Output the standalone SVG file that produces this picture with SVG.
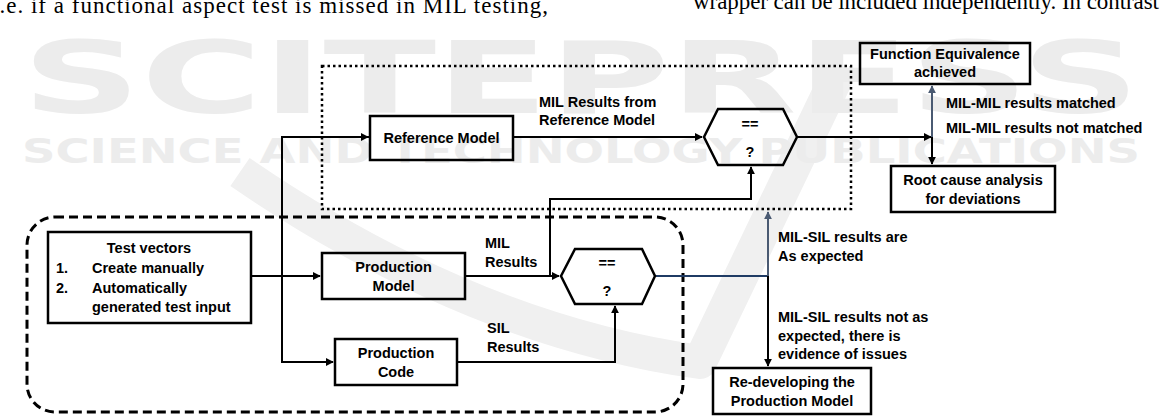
<svg xmlns="http://www.w3.org/2000/svg" width="1161" height="416" viewBox="0 0 1161 416">
<style>
.wm{fill:#ececec;font-family:"DejaVu Sans","Liberation Sans",sans-serif;font-weight:bold}
.pg{fill:#000;font-family:"Liberation Serif",serif;font-size:23px}
.box{fill:none;stroke:#000;stroke-width:2.5}
.t{font-family:"Liberation Sans",Arial,sans-serif;font-weight:bold;font-size:14.5px;fill:#000}
.c{text-anchor:middle}
.ln{fill:none;stroke:#000;stroke-width:2}
.lb{fill:none;stroke:#4a5a72;stroke-width:2}
.nv{fill:none;stroke:#1f3b64;stroke-width:2}
</style>
<defs>
<marker id="ah" viewBox="0 0 10 10" refX="9" refY="5" markerWidth="4" markerHeight="4" orient="auto" markerUnits="strokeWidth"><path d="M0,0L10,5L0,10z" fill="#000"/></marker>
<marker id="ahb" viewBox="0 0 10 10" refX="9" refY="5" markerWidth="4" markerHeight="4" orient="auto" markerUnits="strokeWidth"><path d="M0,0L10,5L0,10z" fill="#4a5a72"/></marker>
</defs>
<rect width="1161" height="416" fill="#fff"/>
<g id="page-text">
<text class="pg" x="-8" y="13" textLength="556" lengthAdjust="spacing">i.e. if a functional aspect test is missed in MIL testing,</text>
<text class="pg" x="693" y="9" textLength="466" lengthAdjust="spacing">wrapper can be included independently. In contrast</text>
</g>
<g id="watermark">
<path d="M240,172 Q470,330 700,362 L842,66" fill="none" stroke="#f0f0f0" stroke-width="34" stroke-linejoin="round"/>
<text class="wm" x="22" y="113" font-size="100" textLength="1118" lengthAdjust="spacingAndGlyphs">SCITEPRESS</text>
<text class="wm" x="22" y="163" font-size="34" font-weight="normal" textLength="1118" lengthAdjust="spacingAndGlyphs">SCIENCE AND TECHNOLOGY PUBLICATIONS</text>
</g>
<g id="regions">
<rect x="322" y="66" width="529" height="143" fill="none" stroke="#000" stroke-width="2.5" stroke-dasharray="2.5 3"/>
<rect x="27" y="217" width="656" height="195" rx="28" fill="none" stroke="#000" stroke-width="3" stroke-dasharray="9 5"/>
</g>
<g id="connectors">
<path class="ln" d="M251,276H320" marker-end="url(#ah)"/>
<path class="ln" d="M369,137H282V362H333" marker-end="url(#ah)"/>
<path class="ln" d="M282,137H368" marker-end="url(#ah)"/>
<path class="ln" d="M513,137H702" marker-end="url(#ah)"/>
<path class="ln" d="M465,276H559" marker-end="url(#ah)"/>
<path class="ln" d="M550,276V199H751V167" marker-end="url(#ah)"/>
<path class="ln" d="M457,362H615V306" marker-end="url(#ah)"/>
<path class="ln" d="M797,137H931" marker-end="url(#ah)"/>
<path class="lb" d="M932,137V86" marker-end="url(#ahb)"/>
<path class="ln" d="M932,137V164" marker-end="url(#ah)"/>
<path class="nv" d="M655,276H768"/>
<path class="lb" d="M768,276V212" marker-end="url(#ahb)"/>
<path class="ln" d="M768,276V366" marker-end="url(#ah)"/>
</g>
<g id="labels">
<text class="t" x="539" y="107">MIL Results from</text>
<text class="t" x="539" y="125">Reference Model</text>
<text class="t" x="485" y="248">MIL</text>
<text class="t" x="485" y="267">Results</text>
<text class="t" x="487" y="333">SIL</text>
<text class="t" x="487" y="352">Results</text>
<text class="t" x="946" y="108">MIL-MIL results matched</text>
<text class="t" x="946" y="133">MIL-MIL results not matched</text>
<text class="t" x="778" y="242">MIL-SIL results are</text>
<text class="t" x="778" y="261">As expected</text>
<text class="t" x="778" y="322">MIL-SIL results not as</text>
<text class="t" x="778" y="341">expected, there is</text>
<text class="t" x="778" y="359">evidence of issues</text>
</g>
<g id="test-vectors">
<rect class="box" x="48" y="232" width="203" height="91"/>
<text class="t c" x="149" y="253">Test vectors</text>
<text class="t" x="56" y="273">1.</text>
<text class="t" x="92" y="273">Create manually</text>
<text class="t" x="56" y="293">2.</text>
<text class="t" x="92" y="293">Automatically</text>
<text class="t" x="92" y="312">generated test input</text>
</g>
<g id="reference-model">
<rect class="box" x="370" y="116" width="143" height="44"/>
<text class="t c" x="441.5" y="143">Reference Model</text>
</g>
<g id="production-model">
<rect class="box" x="322" y="253" width="143" height="46"/>
<text class="t c" x="393.5" y="272">Production</text>
<text class="t c" x="393.5" y="291">Model</text>
</g>
<g id="production-code">
<rect class="box" x="335" y="339" width="122" height="46"/>
<text class="t c" x="396" y="358">Production</text>
<text class="t c" x="396" y="377">Code</text>
</g>
<g id="compare-mil-mil">
<polygon class="box" points="704,137 718,109 783,109 797,137 783,165 718,165"/>
<text class="t c" x="750" y="129" font-size="16">==</text>
<text class="t c" x="750" y="157" font-size="16">?</text>
</g>
<g id="compare-mil-sil">
<polygon class="box" points="561,276 575,249 642,249 655,276 642,304 575,304"/>
<text class="t c" x="607" y="268" font-size="16">==</text>
<text class="t c" x="607" y="296" font-size="16">?</text>
</g>
<g id="function-equivalence">
<rect class="box" x="860" y="43" width="170" height="41"/>
<text class="t c" x="945" y="59">Function Equivalence</text>
<text class="t c" x="945" y="77">achieved</text>
</g>
<g id="root-cause">
<rect class="box" x="891" y="166" width="164" height="46"/>
<text class="t c" x="973" y="185">Root cause analysis</text>
<text class="t c" x="973" y="204">for deviations</text>
</g>
<g id="redevelop">
<rect class="box" x="713" y="368" width="158" height="46"/>
<text class="t c" x="792" y="387">Re-developing the</text>
<text class="t c" x="792" y="406">Production Model</text>
</g>
</svg>
